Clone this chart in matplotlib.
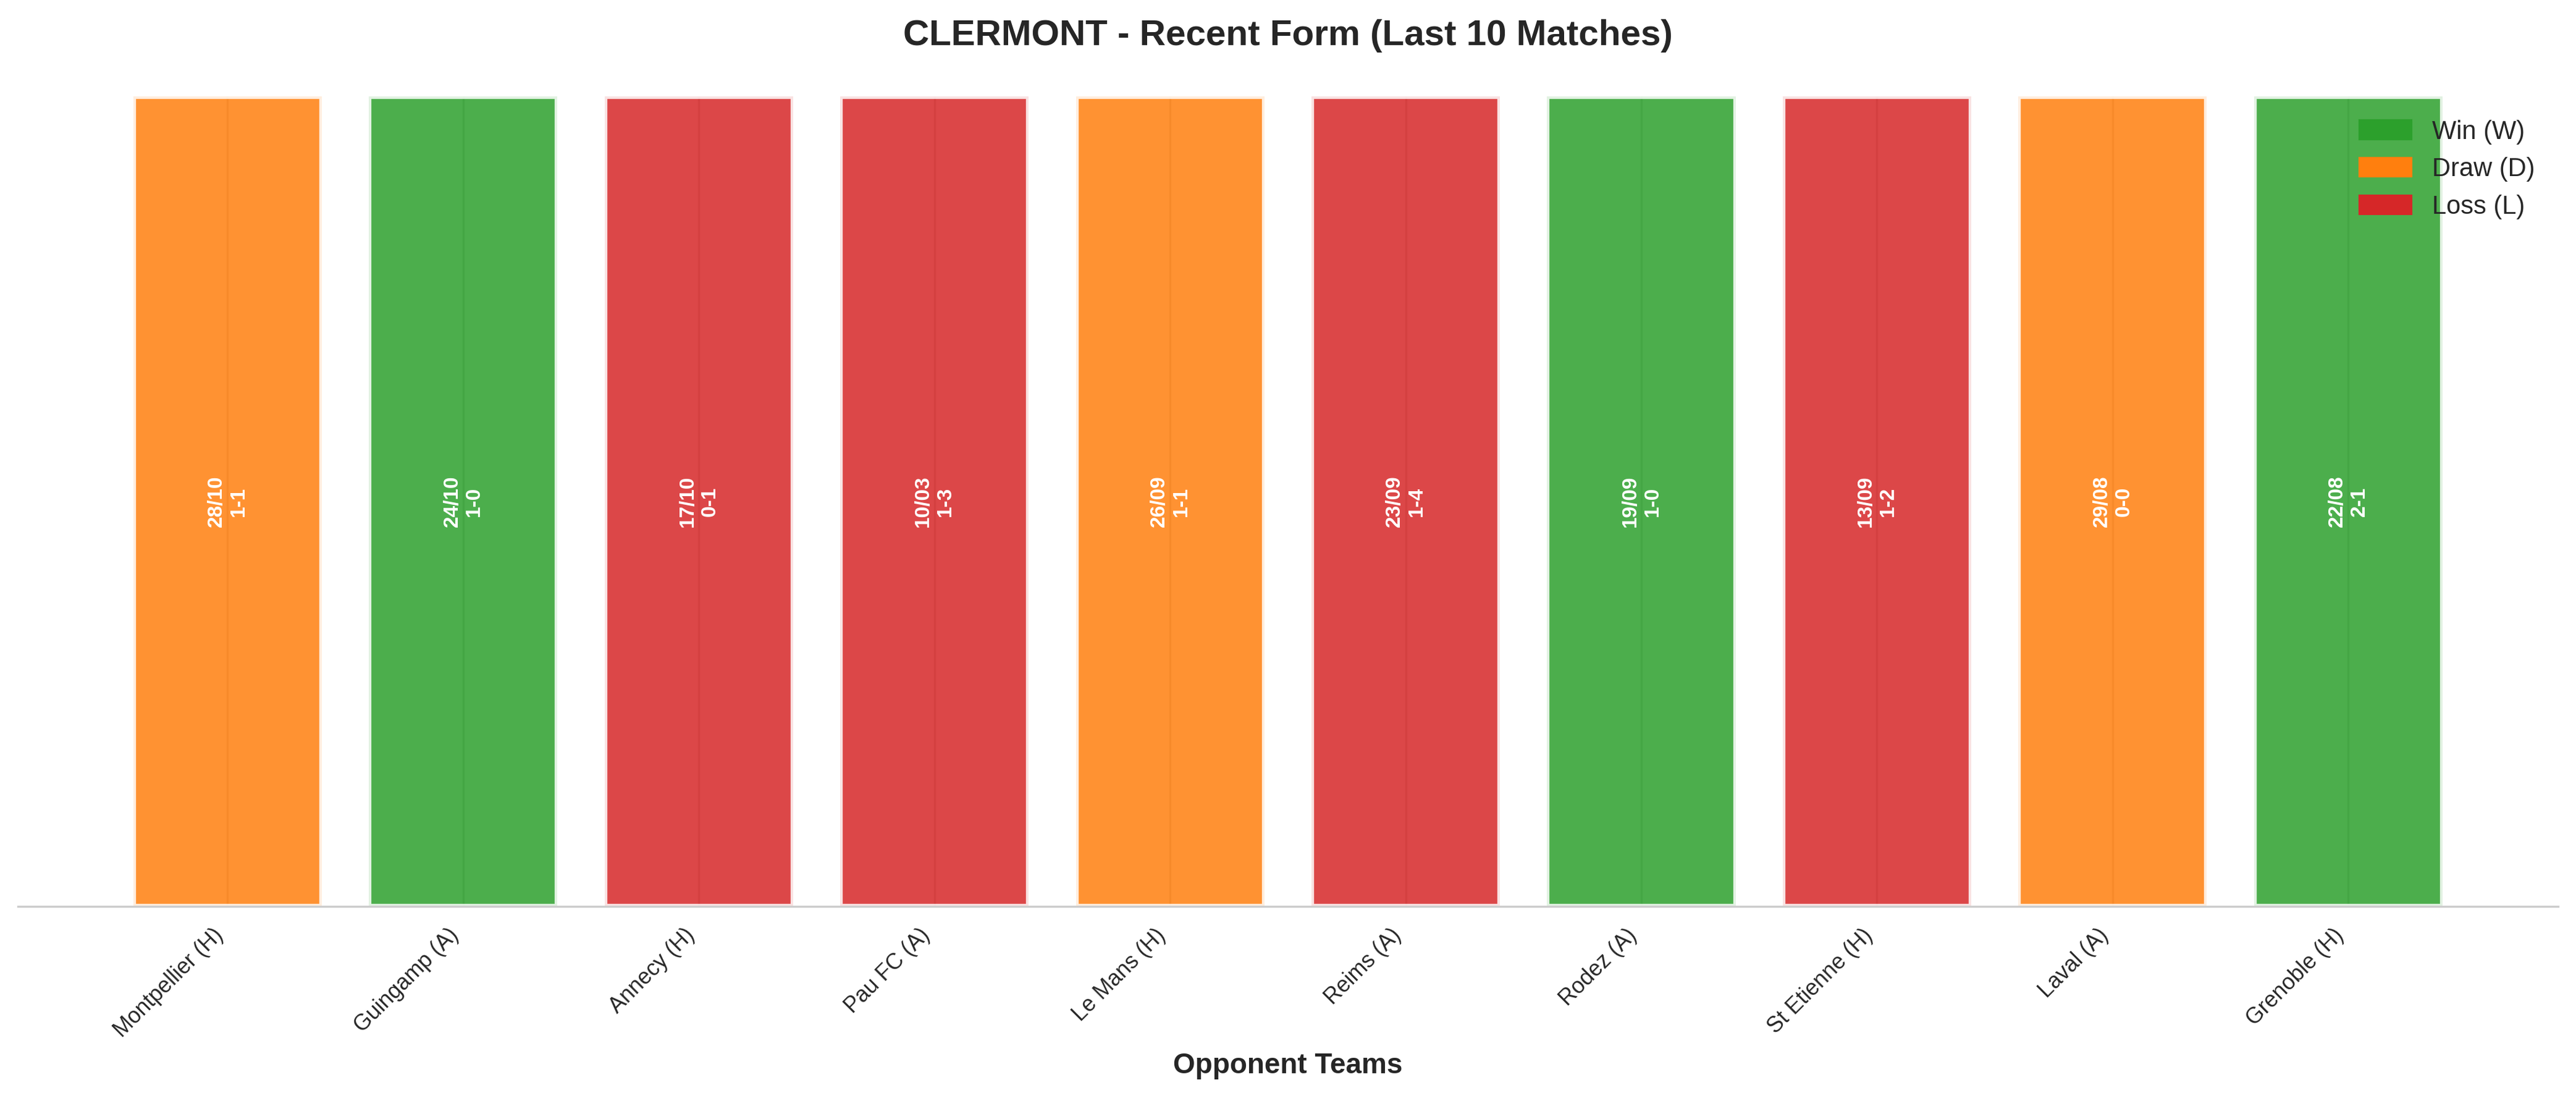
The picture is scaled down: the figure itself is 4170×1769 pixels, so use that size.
import matplotlib
matplotlib.use('Agg')
import matplotlib.pyplot as plt
from matplotlib.patches import Patch
import seaborn as sns
import numpy as np

sns.set_style('whitegrid')
plt.rcParams['font.family'] = ['Liberation Sans', 'DejaVu Sans']

opponents = ['Montpellier (H)', 'Guingamp (A)', 'Annecy (H)', 'Pau FC (A)', 'Le Mans (H)',
             'Reims (A)', 'Rodez (A)', 'St Etienne (H)', 'Laval (A)', 'Grenoble (H)']
dates = ['28/10', '24/10', '17/10', '10/03', '26/09', '23/09', '19/09', '13/09', '29/08', '22/08']
scores = ['1-1', '1-0', '0-1', '1-3', '1-1', '1-4', '1-0', '1-2', '0-0', '2-1']
results = ['D', 'W', 'L', 'L', 'D', 'L', 'W', 'L', 'D', 'W']

colors = {'W': '#2ca02c', 'D': '#ff7f0e', 'L': '#d62728'}
labels = {'W': 'Win (W)', 'D': 'Draw (D)', 'L': 'Loss (L)'}

fig = plt.figure(figsize=(13.9, 5.8967), dpi=300)
ax = fig.add_axes([0.00695, 0.1707, 0.98605, 0.7411])

x = np.arange(len(opponents))
bars = ax.bar(x, [1] * len(x), width=0.8, color=[colors[r] for r in results],
              alpha=0.85, edgecolor='white', linewidth=2)

# date + score written inside each bar
for i, (d, s) in enumerate(zip(dates, scores)):
    ax.text(i, 0.5, f'{d}\n{s}', ha='center', va='center', rotation=90,
            color='white', fontsize=8, fontweight='bold')

ax.set_ylim(0, 1)
ax.set_xticks(x)
ax.set_xticklabels(opponents, rotation=45, ha='right', fontsize=8.6)
ax.set_yticks([])
ax.set_xlabel('Opponent Teams', fontsize=11, fontweight='bold')
ax.set_title('CLERMONT - Recent Form (Last 10 Matches)', fontsize=14, fontweight='bold', pad=20)

for side in ['left', 'top', 'right']:
    ax.spines[side].set_visible(False)
ax.spines['bottom'].set_color('#cccccc')

handles = [Patch(color=colors[k], label=labels[k]) for k in ['W', 'D', 'L']]
ax.legend(handles=handles, loc='upper right', frameon=False, fontsize=10)

fig.savefig('out.png', dpi=300)
